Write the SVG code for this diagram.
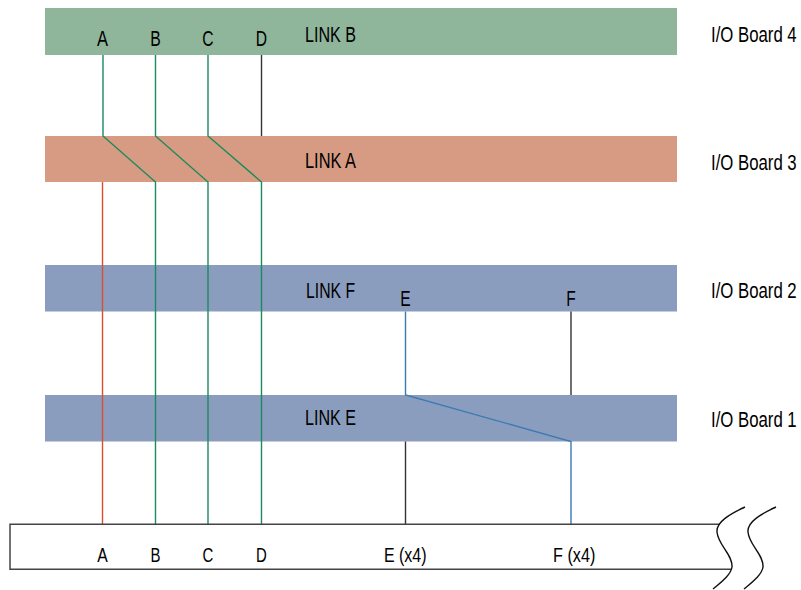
<svg xmlns="http://www.w3.org/2000/svg" width="801" height="590" viewBox="0 0 801 590">
<style>
.t{font-family:"Liberation Sans",Arial,sans-serif;font-size:21.5px;fill:#000}
.s{font-family:"Liberation Sans",Arial,sans-serif;font-size:20px;fill:#000}
.m{text-anchor:middle}
.w{fill:none;stroke-width:1.4}
.g{stroke:#1b8a5e}
.r{stroke:#d9512c}
.b{stroke:#3b7bb0}
.k{stroke:#333}
.box{fill:none;stroke:#444;stroke-width:1.5}
.brk{fill:none;stroke:#111;stroke-width:1.4}
</style>
<rect width="801" height="590" fill="#fff"/>
<g id="board4">
<rect x="45" y="8" width="632" height="47" fill="#8fb59b"/>
<text class="t" x="305" y="41.5" textLength="51" lengthAdjust="spacingAndGlyphs">LINK B</text>
<text class="t m" x="102.5" y="46" textLength="11" lengthAdjust="spacingAndGlyphs">A</text>
<text class="t m" x="155.5" y="46" textLength="10.5" lengthAdjust="spacingAndGlyphs">B</text>
<text class="t m" x="208" y="46" textLength="11.3" lengthAdjust="spacingAndGlyphs">C</text>
<text class="t m" x="261.5" y="46" textLength="11.3" lengthAdjust="spacingAndGlyphs">D</text>
<text class="t" transform="translate(711 41.7) scale(0.78 1)">I/O Board 4</text>
</g>
<g id="board3">
<rect x="45" y="136" width="632" height="46" fill="#d69b82"/>
<text class="t" x="305" y="168" textLength="51" lengthAdjust="spacingAndGlyphs">LINK A</text>
<text class="t" transform="translate(711 170) scale(0.78 1)">I/O Board 3</text>
</g>
<g id="board2">
<rect x="45" y="265" width="632" height="46.5" fill="#8b9dbf"/>
<text class="t" x="306" y="298" textLength="49" lengthAdjust="spacingAndGlyphs">LINK F</text>
<text class="t m" x="405.5" y="306" textLength="10.4" lengthAdjust="spacingAndGlyphs">E</text>
<text class="t m" x="571" y="306" textLength="9.5" lengthAdjust="spacingAndGlyphs">F</text>
<text class="t" transform="translate(711 298) scale(0.78 1)">I/O Board 2</text>
</g>
<g id="board1">
<rect x="45" y="395" width="632" height="46.5" fill="#8b9dbf"/>
<text class="t" x="305" y="425" textLength="51" lengthAdjust="spacingAndGlyphs">LINK E</text>
<text class="t" transform="translate(711 427) scale(0.78 1)">I/O Board 1</text>
</g>
<g id="connectors">
<path class="w g" d="M103,55 V136 L155.5,182 V524.3"/>
<path class="w g" d="M155.5,55 V136 L208,182 V524.3"/>
<path class="w g" d="M208,55 V136 L261.5,182 V524.3"/>
<path class="w k" d="M261.5,55 V136"/>
<path class="w r" d="M102.5,182 V524.3"/>
<path class="w b" d="M405.5,311.5 V395 L571,441.5 V524.3"/>
<path class="w k" d="M571,311.5 V395"/>
<path class="w k" d="M405.5,441.5 V524.3"/>
</g>
<g id="backplane">
<path class="box" d="M720,524.3 H10 V569.3 H731"/>
<path class="brk" d="M745,507 C730,514 716,522 717,532 C718,545 733,555 732,567 C731,575 720,583 713,589"/>
<path class="brk" d="M776,507 C761,514 747,522 748,532 C749,545 764,555 763,567 C762,575 751,583 744,589"/>
<text class="s m" x="102.5" y="562" textLength="10.5" lengthAdjust="spacingAndGlyphs">A</text>
<text class="s m" x="155.5" y="562" textLength="10" lengthAdjust="spacingAndGlyphs">B</text>
<text class="s m" x="208" y="562" textLength="10.8" lengthAdjust="spacingAndGlyphs">C</text>
<text class="s m" x="261.5" y="562" textLength="10.8" lengthAdjust="spacingAndGlyphs">D</text>
<text class="s" x="384" y="562" textLength="42.5" lengthAdjust="spacingAndGlyphs">E (x4)</text>
<text class="s" x="553" y="562" textLength="42.3" lengthAdjust="spacingAndGlyphs">F (x4)</text>
</g>
</svg>
